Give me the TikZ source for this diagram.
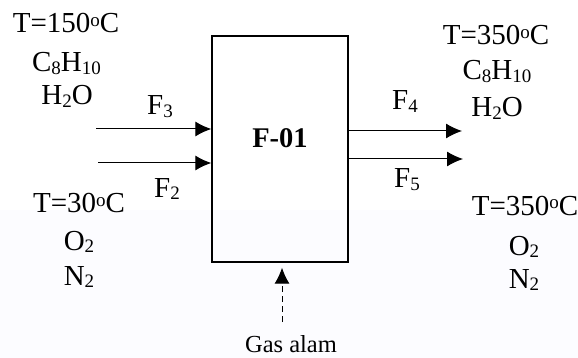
\documentclass[tikz,border=0pt]{standalone}
\usepackage{fontspec}
\setmainfont{Liberation Serif}
\usetikzlibrary{arrows.meta}
\newcommand{\sbs}[1]{\raisebox{-0.08em}{\fontsize{19}{19}\selectfont #1}}
\newcommand{\spo}{\raisebox{0.22em}{\fontsize{19}{19}\selectfont o}}
\begin{document}
\begin{tikzpicture}[x=1pt,y=-1pt,
  txt/.style={anchor=base,inner sep=0pt,font=\fontsize{29}{34}\selectfont},
  ltxt/.style={anchor=base west,inner sep=0pt,font=\fontsize{29}{34}\selectfont},
  arr/.style={line width=1pt,-{Latex[length=16pt,width=15pt]}},
  unit/.style={draw,line width=1.4pt,minimum width=136pt,minimum height=226pt,inner sep=0pt}]
\useasboundingbox (0,0) rectangle (578,358);
\fill[white] (0,0) rectangle (578,210);
\fill[black!6!blue!1!white] (0,210) rectangle (578,358);
% unit
\node[unit] (box) at (280,149) {};
\node[anchor=base,inner sep=0pt,font=\fontsize{28.5}{34}\selectfont\bfseries] (lbl) at (280,148) {F-01};
% left inputs
\node[txt] (t1) at (66,33) {T=150\spo C};
\node[txt] (c1) at (66.5,72) {C\sbs{8}H\sbs{10}};
\node[txt] (h1) at (67,105) {H\sbs{2}O};
\node[ltxt] (f3) at (147,115) {F\sbs{3}};
\node[ltxt] (f2) at (154,197) {F\sbs{2}};
\node[txt] (t2) at (79,213) {T=30\spo C};
\node[txt] (o1) at (79,250) {O\sbs{2}};
\node[txt] (n1) at (79,285) {N\sbs{2}};
% right outputs
\node[txt] (t3) at (496,45) {T=350\spo C};
\node[txt] (c2) at (497,80) {C\sbs{8}H\sbs{10}};
\node[txt] (h2) at (497,117) {H\sbs{2}O};
\node[ltxt] (f4) at (392,110) {F\sbs{4}};
\node[ltxt] (f5) at (394,188) {F\sbs{5}};
\node[txt] (t4) at (525,215) {T=350\spo C};
\node[txt] (o2) at (524,255) {O\sbs{2}};
\node[txt] (n2) at (524,288) {N\sbs{2}};
% fuel
\node[anchor=base,inner sep=0pt,font=\fontsize{24.5}{28}\selectfont] (gas) at (291,352) {Gas alam};
% connectors
\coordinate (f3s) at (96,129);
\coordinate (f2s) at (98,163);
\coordinate (f4e) at (462,131);
\coordinate (f5e) at (463,159);
\coordinate (gs) at (282,322);
\draw[arr] (f3s) -- (f3s -| box.west);
\draw[arr] (f2s) -- (f2s -| box.west);
\draw[arr] (f4e -| box.east) -- (f4e);
\draw[arr] (f5e -| box.east) -- (f5e);
\draw[arr,dash pattern=on 6pt off 4pt,shorten >=5pt] (gs) -- (gs |- box.south);
\end{tikzpicture}
\end{document}
